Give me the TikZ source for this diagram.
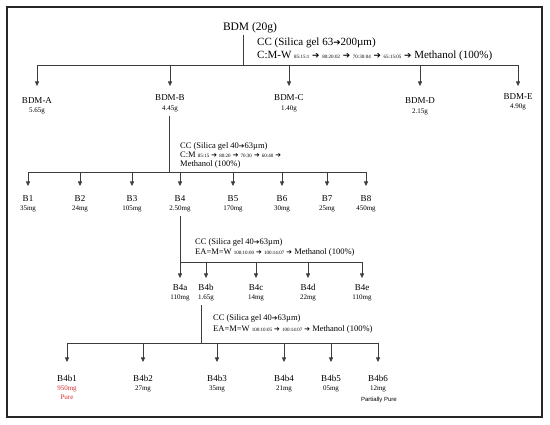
\documentclass[tikz,border=0pt]{standalone}
\usepackage{fontspec}
\setmainfont{Liberation Serif}
\newfontfamily\sansf{Liberation Sans}
\newfontfamily\dvs{DejaVu Sans}
\usetikzlibrary{arrows.meta}
\definecolor{linec}{RGB}{60,60,60}
\definecolor{pured}{RGB}{215,45,45}
\newcommand\rt[1]{{\fontsize{5}{5}\selectfont #1}}
\newcommand\fsz[1]{\fontsize{#1}{#1}\selectfont}
\newcommand\ar{{\dvs\scalebox{0.8}{➔}}}
\begin{document}
\begin{tikzpicture}[x=1pt,y=-1pt,
  conn/.style={draw=linec,line width=0.6pt},
  arr/.style={conn,-{Triangle[width=4pt,length=4.5pt]}},
  lbl/.style={inner sep=0pt,anchor=base,font=\fsz{9}},
  wt/.style={inner sep=0pt,anchor=base,font=\fsz{7}},
  ccbig/.style={inner sep=0pt,anchor=base west,font=\fsz{11}},
  cc/.style={inner sep=0pt,anchor=base west,font=\fsz{8.5}},
]
\useasboundingbox (0,0) rectangle (550,425);
\draw[line width=1.2pt, black!85] (7,7) rectangle (542,417);

% ---------- level 0
\node[inner sep=1pt,anchor=base,font=\fsz{11.5}] (bdm) at (250,31) {BDM (20g)};
\node[ccbig] (cc0) at (257,46) {CC (Silica gel 63\ar200µm)};
\node[ccbig] (cm0) at (257,59) {C:M-W \rt{85:15:1} \ar\ \rt{80:20:02} \ar\ \rt{70:30:04} \ar\ \rt{65:15:05} \ar\ Methanol (100\%)};
\coordinate (b0) at (243,65);
\coordinate (b0L) at (37,65);
\coordinate (b0R) at (518,65);
\draw[conn] (bdm.south -| b0) -- (b0);
\draw[conn] (b0L) -- (b0R);

\node[lbl] (bdma) at (37,104) {BDM-A};  \node[wt] (bdmaw) at (37,113) {5.65g};
\node[lbl] (bdmb) at (170,101) {BDM-B}; \node[wt] (bdmbw) at (170,111) {4.45g};
\node[lbl] (bdmc) at (289,101) {BDM-C}; \node[wt] (bdmcw) at (289,111) {1.40g};
\node[lbl] (bdmd) at (420,104) {BDM-D}; \node[wt] (bdmdw) at (420,114) {2.15g};
\node[lbl] (bdme) at (518,100) {BDM-E}; \node[wt] (bdmew) at (518,109) {4.90g};
\foreach \n/\x in {a/37,b/170,c/289,d/420,e/518}{
  \coordinate (t0\n) at (\x,86);
  \draw[arr] (bdm\n |- b0) -- (t0\n);
}

% ---------- level 1
\coordinate (b1) at (169,172);
\coordinate (b1L) at (28,172);
\coordinate (b1R) at (366,172);
\draw[conn] (bdmbw.south -| b1) ++(0,3) -- (b1);
\draw[conn] (b1L) -- (b1R);
\node[cc] (cc1) at (180,149) {CC (Silica gel 40\ar63µm)};
\node[cc] (cm1) at (180,158) {C:M \rt{85:15} \ar\ \rt{80:20} \ar\ \rt{70:30} \ar\ \rt{60:40} \ar};
\node[cc] (me1) at (180,167) {Methanol (100\%)};
\foreach \n/\x/\w in {1/28/35mg,2/80/24mg,3/132/105mg,4/180/2.50mg,5/233/170mg,6/282/30mg,7/327/25mg,8/366/450mg}{
  \node[lbl] (B\n) at (\x,202) {B\n};
  \node[wt] (B\n w) at (\x,210.5) {\w};
  \coordinate (t1\n) at (\x,186);
  \draw[arr] (B\n |- b1) -- (t1\n);
}

% ---------- level 2
\coordinate (b2) at (180,262);
\coordinate (b2R) at (362,262);
\draw[conn] (B4w.south) ++(0,4) -- (b2);
\draw[conn] (b2) -- (b2R);
\node[cc] (cc2) at (195,245) {CC (Silica gel 40\ar63µm)};
\node[cc] (cm2) at (195,255) {EA=M=W \rt{100:10:00} \ar\ \rt{100:14:07} \ar\ Methanol (100\%)};
\foreach \n/\x/\w in {a/180/110mg,b/206/1.65g,c/256/14mg,d/308/22mg,e/362/110mg}{
  \node[lbl] (B4\n) at (\x,291) {B4\n};
  \node[wt] (B4\n w) at (\x,299.5) {\w};
  \coordinate (t2\n) at (\x,278);
  \draw[arr] (B4\n |- b2) -- (t2\n);
}

% ---------- level 3
\coordinate (b3) at (201,343);
\coordinate (b3L) at (67,343);
\coordinate (b3R) at (378,343);
\draw[conn] (B4bw.south -| b3) ++(0,4) -- (b3);
\draw[conn] (b3L) -- (b3R);
\node[cc] (cc3) at (213,321) {CC (Silica gel 40\ar63µm)};
\node[cc] (cm3) at (213,332) {EA=M=W \rt{100:10:05} \ar\ \rt{100:14:07} \ar\ Methanol (100\%)};
\foreach \n/\x in {1/67,2/143,3/217,4/284,5/331,6/378}{
  \node[lbl] (B4b\n) at (\x,382) {B4b\n};
  \coordinate (t3\n) at (\x,362);
  \draw[arr] (B4b\n |- b3) -- (t3\n);
}
\node[wt,text=pured] (B4b1w) at (67,391) {950mg};
\node[wt,text=pured] (pure) at (67,400) {Pure};
\foreach \n/\x/\w in {2/143/27mg,3/217/35mg,4/284/21mg,5/331/05mg,6/378/12mg}{
  \node[wt] (B4b\n w) at (\x,391) {\w};
}
\node[wt,font=\sansf\fsz{6}] (ppure) at (379,402) {Partially Pure};
\end{tikzpicture}
\end{document}
